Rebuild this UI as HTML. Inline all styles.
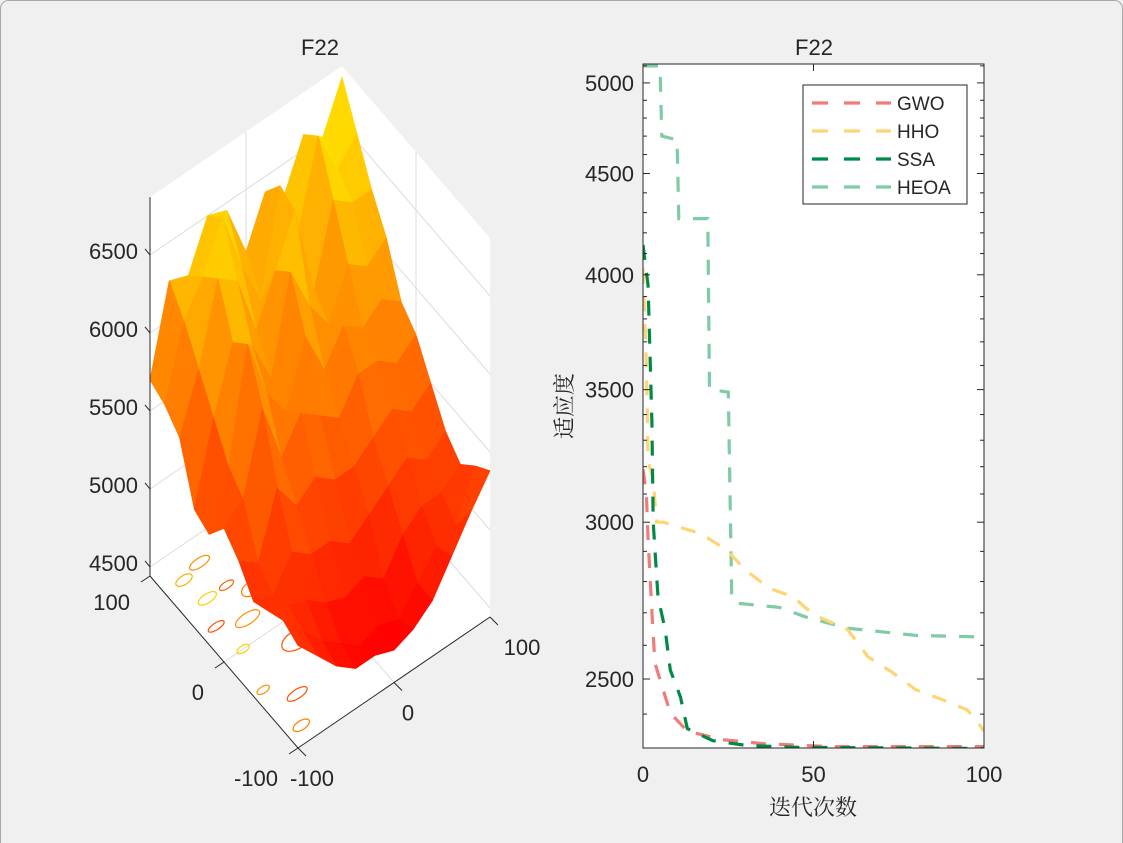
<!DOCTYPE html>
<html><head><meta charset="utf-8">
<style>
html,body{margin:0;padding:0;background:#f0f0f0;}
body{width:1123px;height:843px;overflow:hidden;position:relative;}
svg{position:absolute;left:0;top:0;}
text{font-family:"Liberation Sans","Noto Sans CJK SC",sans-serif;fill:#262626;}
</style></head>
<body>
<svg id="fig" width="1123" height="843" viewBox="0 0 1123 843">
  <rect x="0.5" y="0.5" width="1122" height="850" rx="8" fill="#f0f0f0" stroke="#a8a8a8"/>
  <g id="surf"></g>
  <g id="conv"></g>
</svg>
<script>
// ---------- 3D surface data (Z over 11x11 grid; rows Y=100..-100, cols X=-100..100) ----------
const gridX = [-100,-80,-60,-40,-20,0,20,40,60,80,100];
const gridY = [100,80,60,40,20,0,-20,-40,-60,-80,-100];
const surfZ = [
 [5700,6250,6200,6500,6450,6100,6400,6300,6600,6500,6800],
 [5650,6100,6300,6600,6200,5900,6550,6200,6700,6400,6550],
 [5550,5900,6400,6300,5900,6200,6500,5900,6400,6300,6300],
 [5200,5700,6100,6000,5700,6300,6000,5800,6100,6000,6100],
 [5150,5500,6200,5800,5600,6000,5700,5900,5800,5900,5800],
 [5300,5400,5900,5500,5700,5600,5500,5700,5700,5600,5700],
 [5200,5100,5500,5300,5400,5300,5300,5400,5500,5400,5500],
 [5050,5000,5200,5100,5100,5000,5100,5200,5300,5200,5300],
 [5100,5050,5000,4900,4850,4900,4800,5000,5100,5100,5200],
 [5150,5000,4850,4750,4650,4700,4650,4800,4950,5000,5300],
 [5100,4950,4800,4700,4700,4650,4700,4800,5000,5200,5380]
];
const zTicks = [4500,5000,5500,6000,6500];
const xyTicks = [-100,0,100];

// ---------- convergence data ----------
const gwoIter = [0,1,1.5,2.7,3.5,8,13,23,35,55,100];
const gwoVal  = [3190,3100,2940,2686,2547,2403,2353,2330,2319,2311,2311];
const hhoIter = [0,1,1.5,3,4,6,17,24.6,30,37,44,50,60,66,73,80,88,95,97,100];
const hhoVal  = [4030,3600,3220,3150,3000,3000,2960,2904,2838,2778,2751,2694,2648,2565,2520,2469,2440,2412,2392,2353];
const ssaIter = [0,1.5,2.6,3,4.4,6.5,8,11,13,20.5,30.5,45,100];
const ssaVal  = [4141,3950,3370,3000,2750,2647,2526,2448,2360,2327,2314,2309,2306];
const heoaIter = [0,5,5.5,10,10.5,19,19.5,25,26,27,40,48,60,80,100];
const heoaVal  = [5100,5100,4700,4680,4270,4270,3500,3490,2760,2731,2717,2686,2652,2630,2625];
const seriesNames = ["GWO","HHO","SSA","HEOA"];
const yTicks = [2500,3000,3500,4000,4500,5000];
const xTicks = [0,50,100];

const NS="http://www.w3.org/2000/svg";
function mk(tag, attrs, parent){const e=document.createElementNS(NS,tag);for(const k in attrs)e.setAttribute(k,attrs[k]);parent.appendChild(e);return e;}

// ======== Surface ========
const S=document.getElementById('surf');
const F={x:298,y:748}, R={x:490,y:617}, L={x:150,y:576};
const zMin=4442, zMax=6871, zPx=0.156;
function proj(X,Y,Z){const u=(X+100)/200,v=(Y+100)/200;
  return [F.x+u*(R.x-F.x)+v*(L.x-F.x), F.y+u*(R.y-F.y)+v*(L.y-F.y)-(Z-zMin)*zPx];}
function pts(a){return a.map(p=>p[0].toFixed(1)+','+p[1].toFixed(1)).join(' ');}
let w=mk('polygon',{points:pts([proj(-100,100,zMin),proj(100,100,zMin),proj(100,100,zMax),proj(-100,100,zMax)]),fill:'#fff'},S);

w=mk('polygon',{points:pts([proj(100,100,zMin),proj(100,-100,zMin),proj(100,-100,zMax),proj(100,100,zMax)]),fill:'#fff'},S);

w=mk('polygon',{points:pts([proj(-100,-100,zMin),proj(100,-100,zMin),proj(100,100,zMin),proj(-100,100,zMin)]),fill:'#fff'},S);

zTicks.forEach(z=>{
  const a=proj(-100,100,z),b=proj(100,100,z),c=proj(100,-100,z);
  const g=mk('polyline',{points:pts([a,b,c]),fill:'none',stroke:'#dcdcdc','stroke-width':1},S);
  
});
[[-100,0,100,0],[0,-100,0,100]].forEach(d=>{
  const g=mk('polyline',{points:pts([proj(d[0],d[1],zMin),proj(d[2],d[3],zMin)]),fill:'none',stroke:'#dcdcdc'},S);
  
});
[[0,100],[100,0]].forEach(d=>{
  const g=mk('line',{x1:proj(d[0],d[1],zMin)[0],y1:proj(d[0],d[1],zMin)[1],x2:proj(d[0],d[1],zMax)[0],y2:proj(d[0],d[1],zMax)[1],stroke:'#dcdcdc'},S);
  
});
const contours=[[-80,80,8,4,'#ffb000'],[-60,85,10,4,'#ff9000'],[-75,55,9,4,'#ffd000'],[-55,55,7,3,'#ff6000'],[-85,30,8,3,'#ff5000'],[-60,20,12,5,'#ff9000'],[-80,0,6,3,'#ffd000'],[-40,40,10,6,'#ff8000'],[-90,-40,6,3,'#ff9000'],[-70,-60,10,4,'#ff5000'],[-40,-20,14,8,'#ff5000'],[-85,-85,8,4,'#ff8000']];
contours.forEach(c=>{
  const ring=[];for(let k=0;k<24;k++){const t=k/24*2*Math.PI;ring.push(proj(c[0]+c[2]*Math.cos(t),c[1]+c[3]*Math.sin(t),zMin));}
  const p=mk('polygon',{points:pts(ring),fill:'none',stroke:c[4],'stroke-width':1.2},S);
  
});
let lo=Infinity,hi=-Infinity;surfZ.forEach(r=>r.forEach(z=>{lo=Math.min(lo,z);hi=Math.max(hi,z);}));
function col(z,shade){const t=(z-lo)/(hi-lo);const g=Math.round(255*Math.max(0,Math.min(1,t)));return 'rgb(255,'+Math.round(g*shade)+',0)';}
const quads=[];
for(let i=0;i<gridY.length-1;i++)for(let j=0;j<gridX.length-1;j++){
  quads.push({i,j,d:gridX[j]+gridX[j+1]+gridY[i]+gridY[i+1]});
}
quads.sort((a,b)=>b.d-a.d);
quads.forEach(q=>{
  const i=q.i,j=q.j;
  const c=[[i,j],[i,j+1],[i+1,j+1],[i+1,j]];
  const p=c.map(k=>proj(gridX[k[1]],gridY[k[0]],surfZ[k[0]][k[1]]));
  const zm=c.reduce((s,k)=>s+surfZ[k[0]][k[1]],0)/4;
  const slope=(surfZ[i][j+1]+surfZ[i+1][j+1]-surfZ[i][j]-surfZ[i+1][j])/2;
  const shade=Math.max(0.88,Math.min(1,1-slope/5000));
  const e=mk('polygon',{points:pts(p),fill:col(zm,shade),stroke:col(zm,shade),'stroke-width':0.8,'stroke-linejoin':'round'},S);
  
  
});
let ax=mk('line',{x1:150,y1:proj(-100,100,zMax)[1],x2:150,y2:proj(-100,100,zMin)[1],stroke:'#262626'},S);

ax=mk('polyline',{points:pts([proj(-100,100,zMin),proj(-100,-100,zMin),proj(100,-100,zMin)]),fill:'none',stroke:'#262626'},S);

zTicks.forEach(z=>{
  const p=proj(-100,100,z);
  const t=mk('line',{x1:p[0],y1:p[1],x2:p[0]-5,y2:p[1]-6,stroke:'#262626'},S);
  
  const l=mk('text',{x:p[0]-12,y:p[1]+4,'text-anchor':'end','font-size':22},S);l.textContent=z;
  
});
xyTicks.forEach(v=>{
  let p=proj(-100,v,zMin);
  let t=mk('line',{x1:p[0],y1:p[1],x2:p[0]-9,y2:p[1]+6,stroke:'#262626'},S);
  
  let l=mk('text',{x:p[0]-20,y:p[1]+38,'text-anchor':'end','font-size':22},S);l.textContent=v;
  if(v===100){l.setAttribute('x',p[0]-20);l.setAttribute('y',p[1]+34);}
  
  p=proj(v,-100,zMin);
  t=mk('line',{x1:p[0],y1:p[1],x2:p[0]+8,y2:p[1]+8,stroke:'#262626'},S);
  
  l=mk('text',{x:p[0]+14,y:p[1]+38,'text-anchor':'middle','font-size':22},S);l.textContent=v;
  if(v===100){l.setAttribute('x',p[0]+32);l.setAttribute('y',p[1]+38);}
  
});
let tt=mk('text',{x:320,y:55,'text-anchor':'middle','font-size':22,fill:'#000'},S);tt.textContent='F22';


// ======== Convergence plot ========
const C=document.getElementById('conv');
const AX={l:643,r:984,t:64,b:748};
function xs(i){return AX.l+(i/100)*(AX.r-AX.l);}
function ys(v){return 679-860*Math.log(v/2500);}
mk('defs',{},C).innerHTML='<clipPath id="cp"><rect x="643" y="64" width="341" height="684"/></clipPath>';
let bg=mk('rect',{x:AX.l,y:AX.t,width:AX.r-AX.l,height:AX.b-AX.t,fill:'#fff'},C);

const colors=['#f07b79','#ffd473','#008a45','#7fcba3'];
const iters=[gwoIter,hhoIter,ssaIter,heoaIter], vals=[gwoVal,hhoVal,ssaVal,heoaVal];
const sg=mk('g',{'clip-path':'url(#cp)'},C);
[3,1,0,2].forEach(s=>{
  const p=iters[s].map((it,k)=>xs(it).toFixed(1)+','+ys(vals[s][k]).toFixed(1)).join(' ');
  const e=mk('polyline',{points:p,fill:'none',stroke:colors[s],'stroke-width':3.2,'stroke-dasharray':'15,13'},sg);
  
  
});
let box=mk('rect',{x:AX.l,y:AX.t,width:AX.r-AX.l,height:AX.b-AX.t,fill:'none',stroke:'#262626'},C);

for(let v=2400;v<=5100;v+=100){
  const y=ys(v);if(y<AX.t||y>AX.b)continue;
  const major=yTicks.includes(v), len=major?7:4;
  let t=mk('line',{x1:AX.l,y1:y,x2:AX.l+len,y2:y,stroke:'#262626'},C);
  
  t=mk('line',{x1:AX.r,y1:y,x2:AX.r-len,y2:y,stroke:'#262626'},C);
  
}
yTicks.forEach(v=>{
  const l=mk('text',{x:634,y:ys(v)+8,'text-anchor':'end','font-size':22},C);l.textContent=v;
  
});
xTicks.forEach(v=>{
  let t=mk('line',{x1:xs(v),y1:AX.b,x2:xs(v),y2:AX.b-7,stroke:'#262626'},C);
  
  t=mk('line',{x1:xs(v),y1:AX.t,x2:xs(v),y2:AX.t+7,stroke:'#262626'},C);
  
  const l=mk('text',{x:xs(v),y:782,'text-anchor':'middle','font-size':22},C);l.textContent=v;
  
});
let xl=mk('text',{x:813,y:815,'text-anchor':'middle','font-size':22,style:'font-family:"Liberation Serif","Noto Serif CJK SC",serif'},C);xl.textContent='迭代次数';

let yl=mk('text',{x:0,y:0,'text-anchor':'middle','font-size':22,transform:'translate(572,406) rotate(-90)',style:'font-family:"Liberation Serif","Noto Serif CJK SC",serif'},C);yl.textContent='适应度';

let t2=mk('text',{x:814,y:55,'text-anchor':'middle','font-size':22,fill:'#000'},C);t2.textContent='F22';

const lg=mk('g',{},C);

mk('rect',{x:803,y:85,width:164,height:119,fill:'#fff',stroke:'#262626'},lg);
seriesNames.forEach((n,k)=>{
  const y=103+k*28;
  const ln=mk('line',{x1:812,y1:y,x2:891,y2:y,stroke:colors[k],'stroke-width':3.2,'stroke-dasharray':'16,16'},lg);
  
  const tx=mk('text',{x:897,y:y+7,'font-size':19,fill:'#000'},lg);tx.textContent=n;
  
});
</script>
</body></html>
